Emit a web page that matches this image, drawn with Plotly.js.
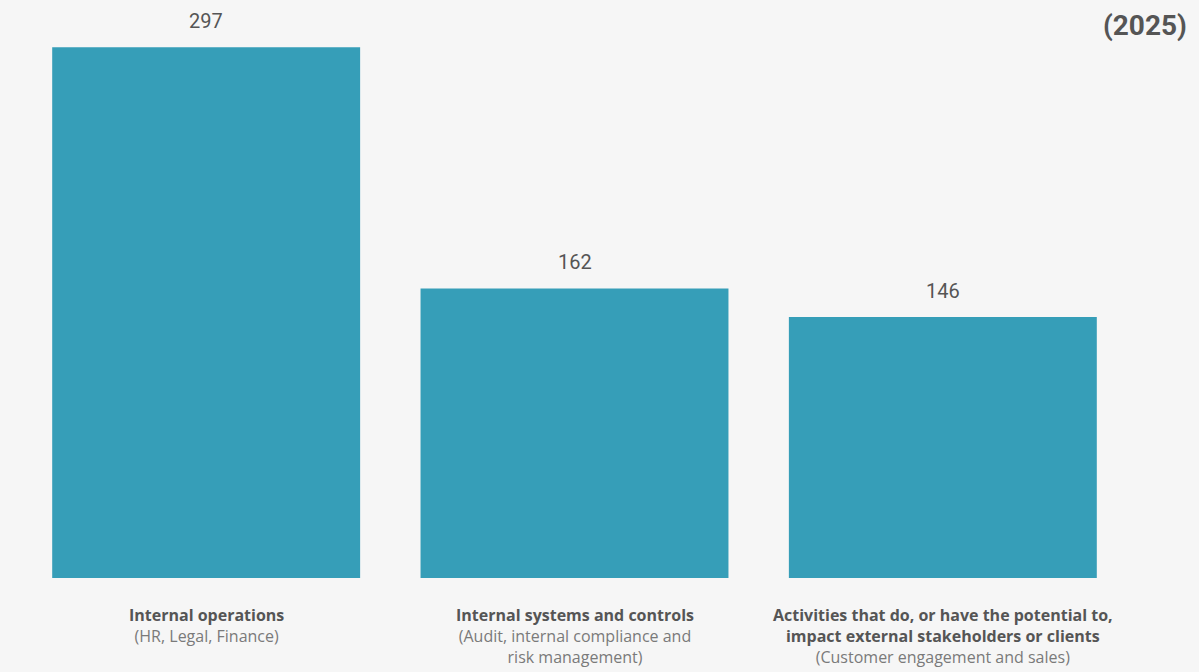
<!DOCTYPE html>
<html>
<head>
<meta charset="utf-8">
<script src="https://cdn.plot.ly/plotly-3.0.1.min.js"></script>
<style>html,body{margin:0;padding:0;background:#f6f6f6;}</style>
</head>
<body>
<div id="chart" style="width:1199px;height:672px;"></div>
<script>
const categories = ["Internal operations", "Internal systems and controls", "External-facing activities"];
const values = [297, 162, 146];
const titleLines = [
  ["Internal operations"],
  ["Internal systems and controls"],
  ["Activities that do, or have the potential to,", "impact external stakeholders or clients"]
];
const subLines = [
  ["(HR, Legal, Finance)"],
  ["(Audit, internal compliance and", "risk management)"],
  ["(Customer engagement and sales)"]
];
const yearLabel = "(2025)";

const annotations = [];
categories.forEach((c, i) => {
  annotations.push({
    x: c, y: values[i], xref: 'x', yref: 'y', yanchor: 'bottom',
    text: String(values[i]), showarrow: false, yshift: 12,
    font: {family: 'Roboto, sans-serif', size: 20, color: '#555555'}
  });
  const txt = titleLines[i].map(t => '<b>' + t + '</b>').join('<br>') + '<br>' +
    subLines[i].map(t => '<span style="color:#7a7a7a">' + t + '</span>').join('<br>');
  annotations.push({
    x: c, y: 0, xref: 'x', yref: 'paper', yanchor: 'top', yshift: -24,
    text: txt, showarrow: false, align: 'center',
    font: {family: '"Open Sans", sans-serif', size: 16, color: '#555555'}
  });
});
annotations.push({
  x: 1, y: 1, xref: 'paper', yref: 'paper', xanchor: 'right', yanchor: 'middle',
  text: '<b>' + yearLabel + '</b>', showarrow: false, xshift: 62, yshift: -1,
  font: {family: 'Roboto, sans-serif', size: 28, color: '#555555'}
});

Plotly.newPlot('chart', [{
  type: 'bar', x: categories, y: values,
  marker: {color: '#369eb8'}, hoverinfo: 'none'
}], {
  width: 1199, height: 672,
  margin: {l: 22, r: 72, t: 24, b: 94},
  paper_bgcolor: '#f6f6f6', plot_bgcolor: '#f6f6f6',
  bargap: 0.164,
  showlegend: false,
  xaxis: {showticklabels: false, showgrid: false, zeroline: false, showline: false, ticks: ''},
  yaxis: {range: [0, 310], visible: false},
  annotations: annotations
}, {displayModeBar: false, staticPlot: true});
</script>
</body>
</html>
